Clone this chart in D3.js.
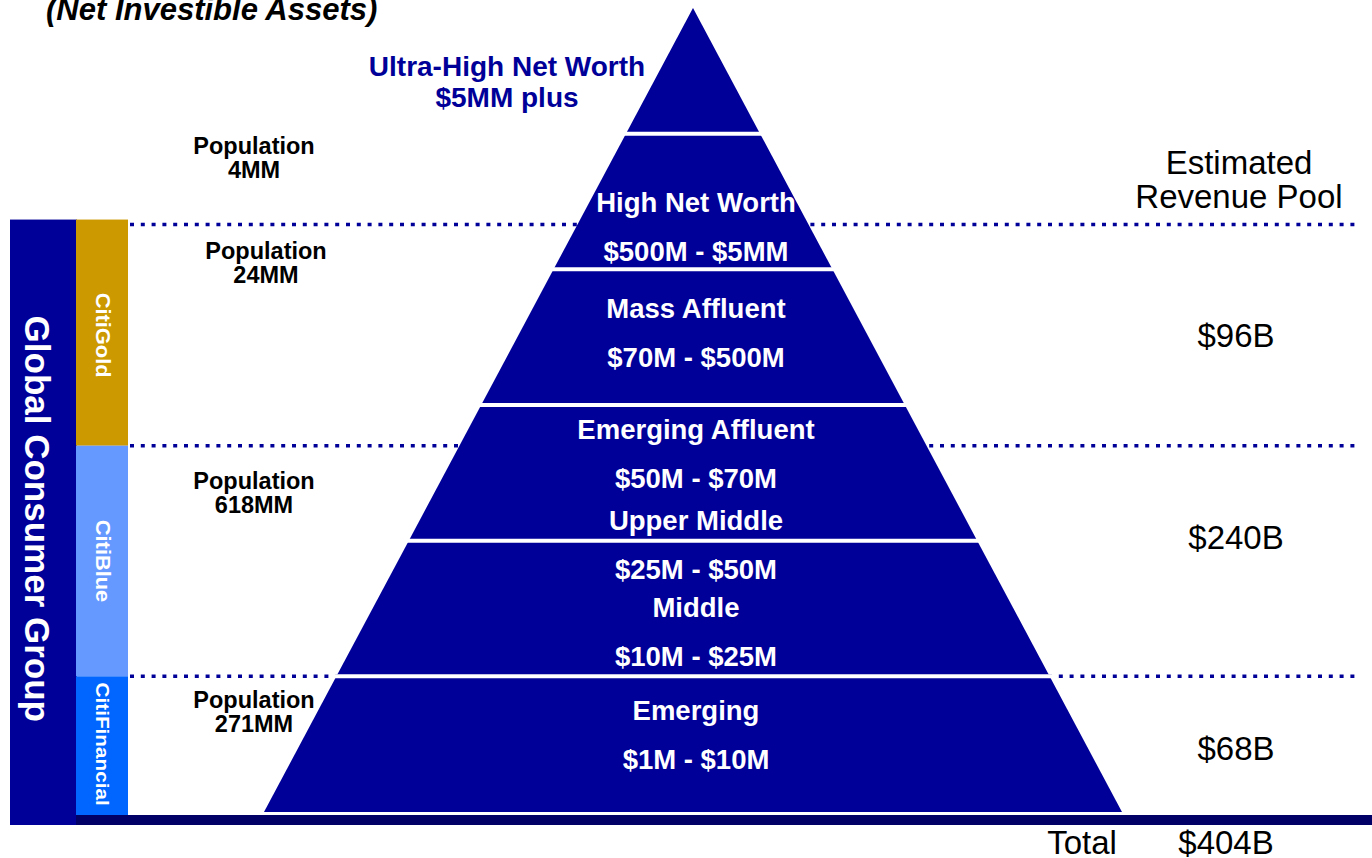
<!DOCTYPE html>
<html>
<head>
<meta charset="utf-8">
<script src="https://cdn.jsdelivr.net/npm/d3@7/dist/d3.min.js"></script>
<style>
  body { margin: 0; background: #fff; }
  svg { display: block; font-family: "Liberation Sans", Arial, sans-serif; }
</style>
</head>
<body>
<svg id="chart" width="1372" height="858"></svg>
<script>
// ---- data ----
var tiers = ["Ultra-High Net Worth", "High Net Worth", "Mass Affluent", "Emerging Affluent", "Middle", "Emerging"];
var segments = ["High Net Worth", "Mass Affluent", "Emerging Affluent", "Upper Middle", "Middle", "Emerging"];
var assetRanges = ["$500M - $5MM", "$70M - $500M", "$50M - $70M", "$25M - $50M", "$10M - $25M", "$1M - $10M"];
var topSegment = ["Ultra-High Net Worth", "$5MM plus"];
var businesses = ["CitiGold", "CitiBlue", "CitiFinancial"];
var populations = ["4MM", "24MM", "618MM", "271MM"];
var revenues = ["$96B", "$240B", "$68B"];
var revenueTotal = "$404B";

// ---- layout (in tier units, 0 = base of pyramid) ----
var segmentLevels = [4.49, 3.71, 2.82, 2.15, 1.51, 0.75];
var businessBounds = [4.33, 2.7, 1, 0];
var populationLevels = [4.82, 4.05, 2.355, 0.74];
var populationX = [254, 266, 254, 254];
var revenueLevels = [3.51, 2.02, 0.47];

var navy = "#000099";
var svg = d3.select("#chart");

var apexY = 8, baseY = 812, cx = 693, baseHalf = 429;
var y = d3.scaleLinear().domain([0, tiers.length]).range([baseY, -2]);
var halfW = d3.scaleLinear().domain([apexY, baseY]).range([0, baseHalf]);

// dotted separators (behind the pyramid)
svg.append("g").selectAll("line")
  .data(businessBounds.slice(0, 3))
  .enter().append("line")
  .attr("x1", 130).attr("x2", 1356)
  .attr("y1", d => y(d)).attr("y2", d => y(d))
  .attr("stroke", navy).attr("stroke-width", 3.5)
  .attr("stroke-dasharray", "4,6.8");

// pyramid tiers
svg.append("g").selectAll("polygon")
  .data(tiers)
  .enter().append("polygon")
  .attr("fill", navy)
  .attr("points", function(d, i) {
    var t = Math.max(apexY, y(tiers.length - i)), b = y(tiers.length - i - 1);
    return [[cx - halfW(t), t], [cx + halfW(t), t], [cx + halfW(b), b], [cx - halfW(b), b]].join(" ");
  });

// white gaps between tiers
svg.append("g").selectAll("line")
  .data(d3.range(1, tiers.length))
  .enter().append("line")
  .attr("x1", d => cx - halfW(y(d)) - 4)
  .attr("x2", d => cx + halfW(y(d)) + 4)
  .attr("y1", d => y(d)).attr("y2", d => y(d))
  .attr("stroke", "#fff").attr("stroke-width", 4);

// segment labels inside pyramid
var seg = svg.append("g")
  .attr("fill", "#fff").attr("font-weight", "bold").attr("font-size", 27.5)
  .attr("text-anchor", "middle");
seg.selectAll("text.name")
  .data(segments).enter().append("text").attr("class", "name")
  .attr("x", cx + 3).attr("y", (d, i) => y(segmentLevels[i]))
  .attr("dominant-baseline", "central")
  .text(d => d);
seg.selectAll("text.range")
  .data(assetRanges).enter().append("text").attr("class", "range")
  .attr("x", cx + 3).attr("y", (d, i) => y(segmentLevels[i]) + 49)
  .attr("dominant-baseline", "central")
  .text(d => d);

// ultra-high label
svg.append("g").selectAll("text")
  .data(topSegment).enter().append("text")
  .attr("x", 507).attr("y", (d, i) => 66 + i * 31)
  .attr("text-anchor", "middle").attr("dominant-baseline", "central")
  .attr("fill", navy).attr("font-weight", "bold").attr("font-size", 28)
  .text(d => d);

// title (cut off at top)
svg.append("text")
  .attr("x", 46).attr("y", 20)
  .attr("font-weight", "bold").attr("font-style", "italic").attr("font-size", 31)
  .attr("fill", "#000")
  .text("(Net Investible Assets)");

// left panel
svg.append("rect")
  .attr("x", 10).attr("y", y(businessBounds[0]) - 5)
  .attr("width", 67).attr("height", 825 - y(businessBounds[0]) + 5)
  .attr("fill", navy);
svg.append("text")
  .attr("transform", "translate(37," + ((y(businessBounds[0]) + 825) / 2 - 6) + ") rotate(90)")
  .attr("text-anchor", "middle").attr("dominant-baseline", "central")
  .attr("fill", "#fff").attr("font-weight", "bold").attr("font-size", 35)
  .text("Global Consumer Group");

var bizColors = d3.scaleOrdinal().domain(businesses).range(["#CC9900", "#6699FF", "#0066FF"]);
var biz = svg.append("g").selectAll("g")
  .data(businesses).enter().append("g");
biz.append("rect")
  .attr("x", 76).attr("width", 52)
  .attr("y", (d, i) => y(businessBounds[i]) - (i == 0 ? 5 : 0))
  .attr("height", (d, i) => y(businessBounds[i + 1]) - y(businessBounds[i]) + (i == 0 ? 5 : 0) + (i == 2 ? 3 : 0))
  .attr("fill", d => bizColors(d));
biz.append("text")
  .attr("transform", (d, i) => "translate(103," + (y(businessBounds[i]) + y(businessBounds[i + 1])) / 2 + ") rotate(90) scale(1.12,1)")
  .attr("text-anchor", "middle").attr("dominant-baseline", "central")
  .attr("fill", "#fff").attr("font-weight", "bold").attr("font-size", (d, i) => i == 2 ? 18.5 : 19.5)
  .text(d => d);

// bottom bar
svg.append("rect")
  .attr("x", 76).attr("y", 815).attr("width", 1296).attr("height", 10)
  .attr("fill", "#000066");

// population labels
var pop = svg.append("g").selectAll("g")
  .data(populations).enter().append("g")
  .attr("font-weight", "bold").attr("font-size", 23.5).attr("fill", "#000")
  .attr("text-anchor", "middle");
pop.append("text")
  .attr("x", (d, i) => populationX[i]).attr("y", (d, i) => y(populationLevels[i]) - 12)
  .attr("dominant-baseline", "central")
  .text("Population");
pop.append("text")
  .attr("x", (d, i) => populationX[i]).attr("y", (d, i) => y(populationLevels[i]) + 12)
  .attr("dominant-baseline", "central")
  .text(d => d);

// revenue pool
var rev = svg.append("g").attr("font-size", 33).attr("fill", "#000").attr("text-anchor", "middle");
rev.selectAll("text.h")
  .data(["Estimated", "Revenue Pool"]).enter().append("text").attr("class", "h")
  .attr("x", 1239).attr("y", (d, i) => 162 + i * 34)
  .attr("dominant-baseline", "central")
  .text(d => d);
rev.selectAll("text.v")
  .data(revenues).enter().append("text").attr("class", "v")
  .attr("x", 1236).attr("y", (d, i) => y(revenueLevels[i]))
  .attr("dominant-baseline", "central")
  .text(d => d);
rev.append("text").attr("x", 1082).attr("y", 842).attr("dominant-baseline", "central").text("Total");
rev.append("text").attr("x", 1226).attr("y", 842).attr("dominant-baseline", "central").text(revenueTotal);
</script>
</body>
</html>
